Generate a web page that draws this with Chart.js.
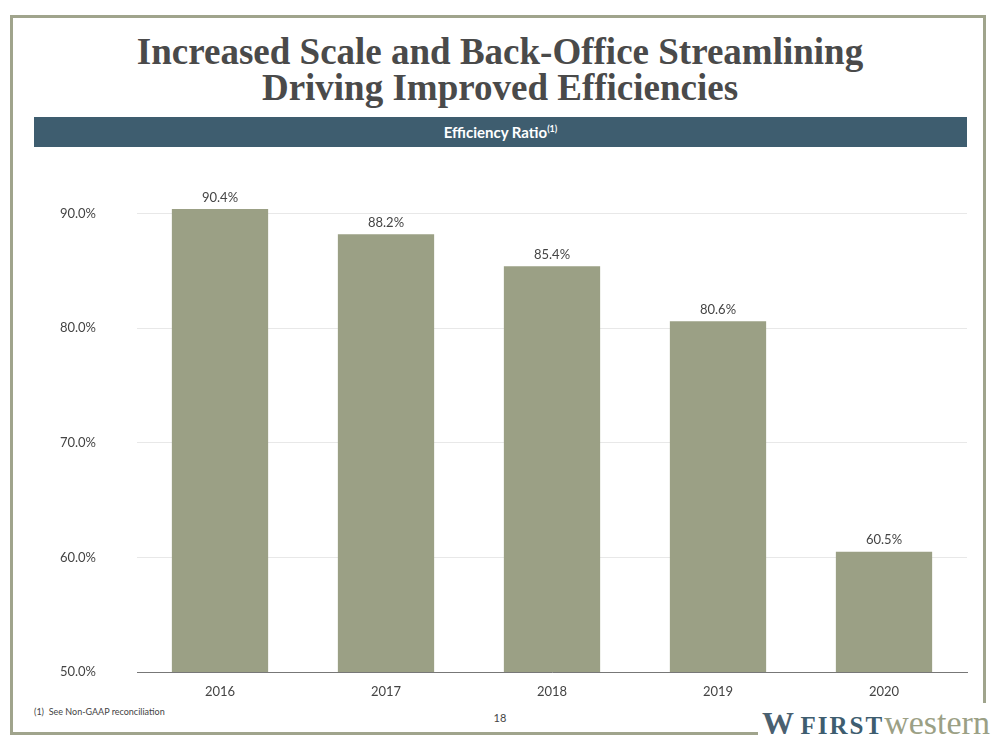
<!DOCTYPE html>
<html><head><meta charset="utf-8">
<script src="https://cdn.jsdelivr.net/npm/chart.js@4/dist/chart.umd.min.js"></script>
<style>
html,body{margin:0;padding:0;background:#fff;}
body{width:1000px;height:750px;position:relative;overflow:hidden;font-family:Lato,"Open Sans",sans-serif;}
.fl{position:absolute;background:#a0a48c;}
#title{position:absolute;left:0;top:34px;width:1000px;text-align:center;font-family:"Liberation Serif","DejaVu Serif",serif;font-weight:bold;font-size:37px;line-height:36px;color:#4a4a4a;}
#banner{position:absolute;left:34px;top:117px;width:933px;height:30px;background:#3e5d6f;color:#fff;text-align:center;font-weight:bold;font-size:15px;line-height:31px;}
#banner sup{font-size:9px;vertical-align:6px;line-height:0;}
#foot{position:absolute;left:34px;top:706px;font-size:9px;color:#444;}
#page{position:absolute;left:490px;top:711px;font-size:11px;color:#444;width:20px;text-align:center;}
#logo{position:absolute;left:758px;top:706px;font-family:"Liberation Serif","DejaVu Serif",serif;font-size:34px;line-height:34px;white-space:nowrap;background:#fff;padding-left:4px;}
#logo .w{color:#4a6070;font-weight:bold;font-size:32px;letter-spacing:-2px;}
#logo .f{color:#3e5d6f;font-weight:bold;font-size:25px;letter-spacing:2px;}
#logo .s{color:#9ba085;}
#wrap{position:absolute;left:40px;top:152px;width:940px;height:550px;}
</style></head><body>
<div class="fl" style="left:10px;top:15px;width:976px;height:3px;"></div>
<div class="fl" style="left:10px;top:15px;width:3px;height:720px;"></div>
<div class="fl" style="left:983px;top:15px;width:3px;height:688px;"></div>
<div class="fl" style="left:10px;top:732px;width:748px;height:3px;"></div>
<div id="title">Increased Scale and Back-Office Streamlining<br>Driving Improved Efficiencies</div>
<div id="banner">Efficiency Ratio<sup>(1)</sup></div>
<div id="wrap"><canvas id="c"></canvas></div>
<div id="foot">(1)&nbsp; See Non-GAAP reconciliation</div>
<div id="page">18</div>
<div id="logo"><span class="w">W</span> <span class="f">FIRST</span><span class="s">western</span></div>
<script>
const categories = ["2016","2017","2018","2019","2020"];
const efficiencyRatio = [90.4, 88.2, 85.4, 80.6, 60.5];
const yTicks = [50, 60, 70, 80, 90];

const labelPlugin = {
  id: 'vlabels',
  afterDatasetsDraw(chart) {
    const ctx = chart.ctx;
    const meta = chart.getDatasetMeta(0);
    ctx.save();
    ctx.font = '13px Lato, sans-serif';
    ctx.fillStyle = '#444';
    ctx.textAlign = 'center';
    ctx.textBaseline = 'bottom';
    meta.data.forEach((bar, i) => {
      ctx.fillText(efficiencyRatio[i].toFixed(1) + '%', bar.x, bar.y - 5);
    });
    ctx.restore();
  }
};

new Chart(document.getElementById('c'), {
  type: 'bar',
  data: {
    labels: categories,
    datasets: [{
      data: efficiencyRatio,
      backgroundColor: '#9ba085',
      barPercentage: 0.58,
      categoryPercentage: 1.0
    }]
  },
  options: {
    responsive: true,
    maintainAspectRatio: false,
    animation: false,
    layout: { padding: { top: 6, right: 13, left: 0, bottom: 0 } },
    plugins: { legend: { display: false }, tooltip: { enabled: false } },
    scales: {
      x: {
        grid: { display: false },
        border: { display: true, color: '#777', width: 1 },
        ticks: { color: '#444', font: { family: 'Lato', size: 13 }, padding: 4 },
        afterFit(s) { s.height = 30; }
      },
      y: {
        min: 50, max: 94,
        afterBuildTicks(s) { s.ticks = yTicks.map(v => ({ value: v })); },
        grid: { color: '#e8e8e8', drawTicks: true, tickLength: 33, tickColor: 'rgba(0,0,0,0)' },
        border: { display: false },
        ticks: {
          color: '#444', font: { family: 'Lato', size: 13 }, padding: 8,
          callback: v => v.toFixed(1) + '%'
        },
        afterFit(s) { s.width = 97; }
      }
    }
  },
  plugins: [labelPlugin]
});
</script>
</body></html>
